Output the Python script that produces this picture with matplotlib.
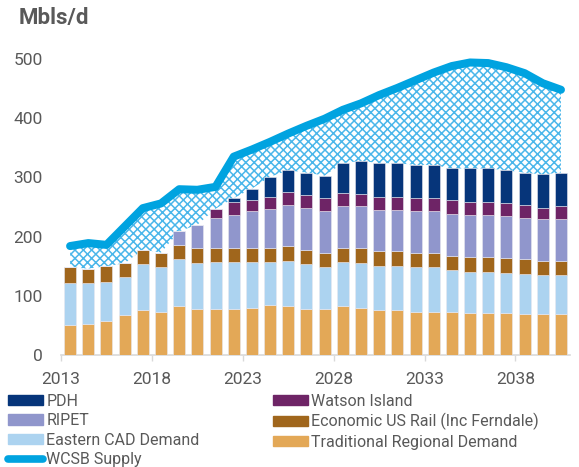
import numpy as np
import matplotlib
matplotlib.use("Agg")
import matplotlib.pyplot as plt
from matplotlib.patches import Patch
from matplotlib.lines import Line2D

years = list(range(2013, 2041))

# stacked demand components, Mbls/d
trad = [51, 53, 58, 67, 76, 73, 83, 78, 78, 78, 80, 85, 83, 78, 78, 83, 80, 76, 76, 73,
        73, 73, 71, 71, 71, 69, 69, 69]
eastern = [70, 68, 65, 64, 77, 76, 79, 77, 79, 79, 77, 72, 76, 75, 70, 74, 75, 74, 74, 75,
           75, 71, 70, 70, 68, 68, 66, 66]
rail = [27, 25, 27, 24, 25, 24, 24, 25, 24, 24, 24, 24, 25, 24, 25, 24, 25, 25, 25, 25,
        25, 24, 25, 25, 25, 25, 24, 24]
ripet = [0, 0, 0, 0, 0, 0, 23, 40, 50, 55, 62, 66, 70, 72, 70, 71, 72, 70, 70, 70,
         70, 70, 70, 70, 70, 69, 70, 70]
watson = [0, 0, 0, 0, 0, 0, 0, 0, 16, 22, 19, 20, 22, 21, 22, 22, 20, 22, 22, 22,
          22, 23, 22, 22, 22, 23, 20, 23]
pdh = [0, 0, 0, 0, 0, 0, 0, 0, 0, 7, 19, 34, 36, 38, 38, 50, 56, 57, 57, 56,
       56, 54, 57, 57, 56, 54, 56, 56]
wcsb = [184, 189, 186, 217, 248, 256, 280, 279, 284, 335, 347, 360, 374, 387, 399, 414,
        425, 439, 451, 464, 477, 488, 494, 493, 486, 476, 459, 448]

names = ["Traditional Regional Demand", "Eastern CAD Demand", "Economic US Rail (Inc Ferndale)",
         "RIPET", "Watson Island", "PDH"]
colors = ["#e3a857", "#acd3f0", "#a0661c", "#9096cc", "#6e2466", "#06357a"]
series = [trad, eastern, rail, ripet, watson, pdh]

grey = "#595959"
plt.rcParams['font.family'] = ['Roboto', 'DejaVu Sans']

fig = plt.figure(figsize=(5.79, 4.67), dpi=100)
ax = fig.add_axes([0.1054, 0.2398, 0.8791, 0.672])

x = np.array(years)
bottom = np.zeros(len(years))
for vals, c in zip(series, colors):
    v = np.array(vals, dtype=float)
    ax.bar(x, v, bottom=bottom, width=0.66, color=c, edgecolor="#e8e8f0", linewidth=0.4, zorder=3)
    bottom += v
total = bottom.copy()

# gap between supply and demand
plt.rcParams['hatch.linewidth'] = 1.1
ax.fill_between(x, total, wcsb, facecolor="white", edgecolor="#4ab6ea", hatch="xxxx",
                linewidth=0, zorder=1)
ax.plot(x, wcsb, color="#00a3e0", lw=5.8, solid_capstyle="round", solid_joinstyle="round", zorder=4)

ax.set_xlim(2012.5, 2040.5)
ax.set_ylim(0, 530)
ax.set_yticks([0, 100, 200, 300, 400, 500])
ax.set_xticks(np.arange(2012.5, 2041, 5))
ax.set_xticklabels([str(y) for y in range(2013, 2041, 5)])
for s in ["top", "right", "left"]:
    ax.spines[s].set_visible(False)
ax.spines["bottom"].set_color("#d9d9d9")
ax.spines["bottom"].set_linewidth(1.2)
ax.tick_params(axis="y", length=0, pad=13, labelsize=12.5, labelcolor=grey)
ax.tick_params(axis="x", length=4, width=1, color="#d9d9d9", pad=8, labelsize=12.5, labelcolor=grey)

fig.text(0.033, 0.962, "Mbls/d", fontsize=16, fontweight="bold", color=grey, va="center")

handles = [Patch(color=colors[5], label="PDH"),
           Patch(color=colors[3], label="RIPET"),
           Patch(color=colors[1], label="Eastern CAD Demand"),
           Line2D([], [], color="#00a3e0", lw=5.5, solid_capstyle="round", label="WCSB Supply"),
           Patch(color=colors[4], label="Watson Island"),
           Patch(color=colors[2], label="Economic US Rail (Inc Ferndale)"),
           Patch(color=colors[0], label="Traditional Regional Demand")]
leg = fig.legend(handles=handles, loc="upper left", bbox_to_anchor=(0.014, 0.157), ncol=2,
                 frameon=False, fontsize=11.5, labelcolor=grey, handlelength=2.2, handleheight=0.6,
                 handletextpad=0.2, labelspacing=0.28, columnspacing=4.6, borderaxespad=0,
                 borderpad=0)

fig.savefig("out.png", dpi=100)
